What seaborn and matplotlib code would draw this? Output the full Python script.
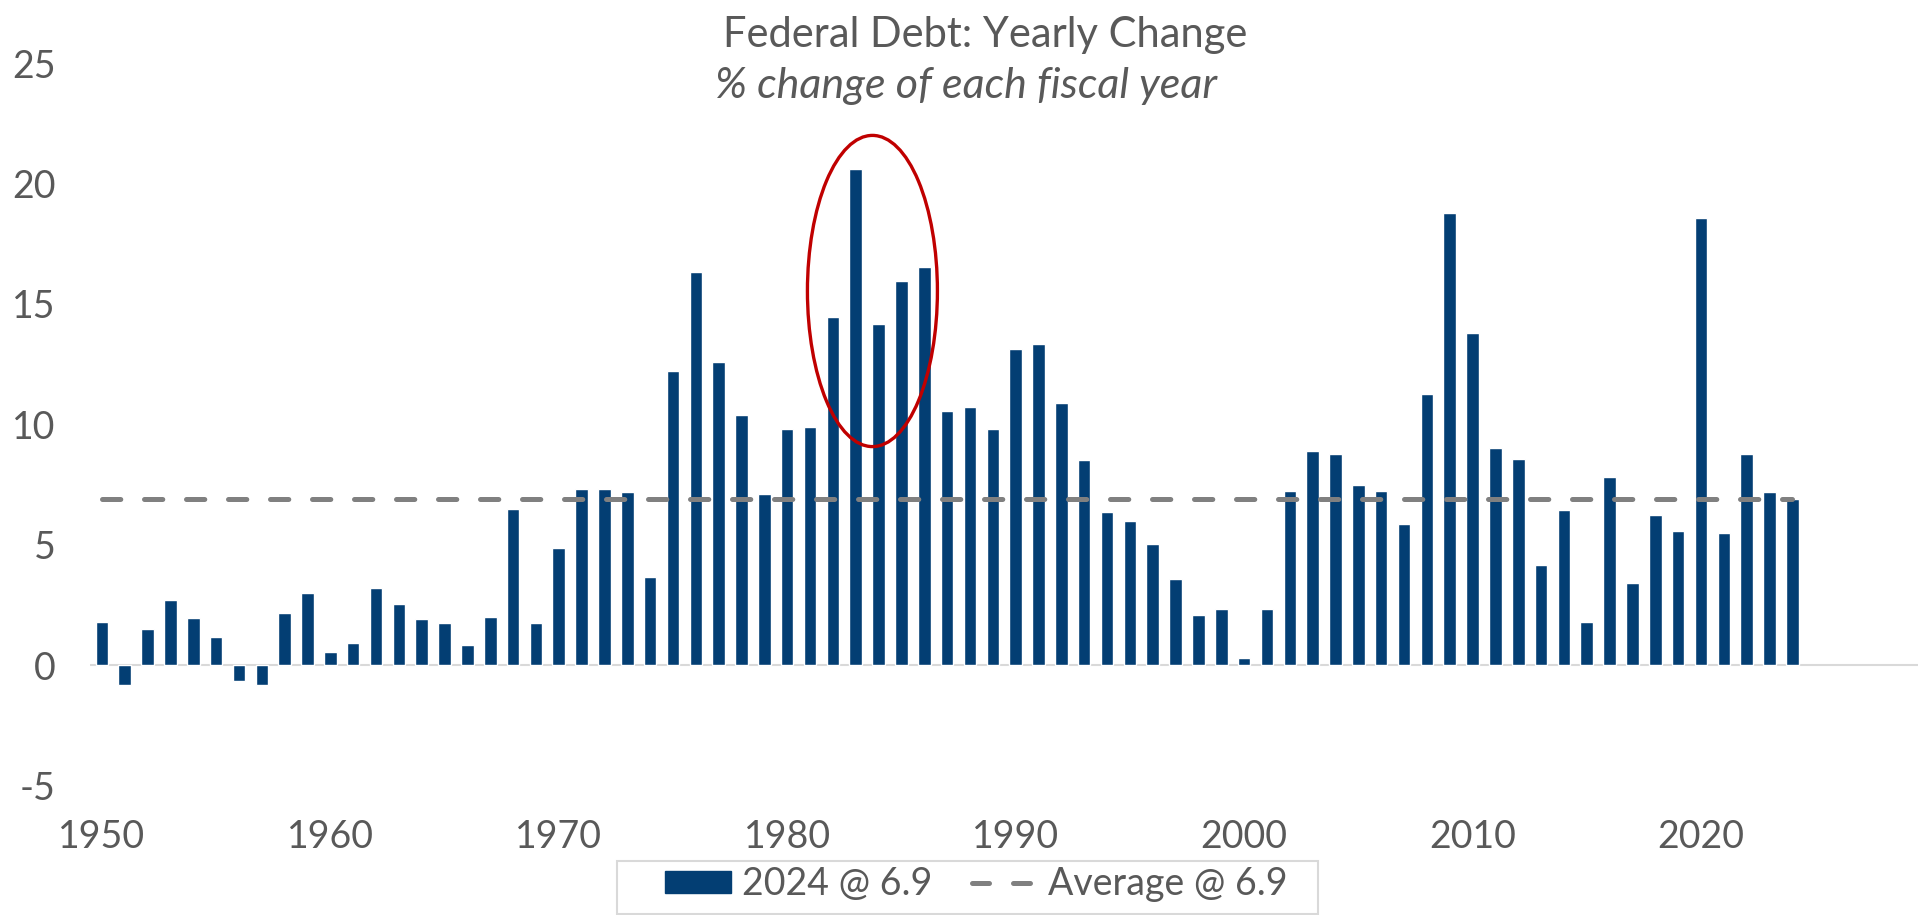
import numpy as np
import matplotlib
matplotlib.use("Agg")
import matplotlib.pyplot as plt
from matplotlib.patches import Ellipse, Patch, Rectangle
from matplotlib.lines import Line2D
import seaborn as sns

# yearly % change of federal debt
years = list(range(1950, 2025))
pct_change = [
    1.8, -0.85, 1.5, 2.7, 1.95, 1.15, -0.65, -0.85, 2.15, 3.0,   # 1950s
    0.55, 0.9, 3.2, 2.55, 1.9, 1.75, 0.85, 2.0, 6.5, 1.75,      # 1960s
    4.85, 7.3, 7.3, 7.2, 3.65, 12.2, 16.35, 12.6, 10.4, 7.1,    # 1970s
    9.8, 9.9, 14.45, 20.6, 14.15, 15.95, 16.55, 10.55, 10.7, 9.8,  # 1980s
    13.15, 13.35, 10.9, 8.5, 6.35, 5.97, 5.03, 3.57, 2.06, 2.32,  # 1990s
    0.28, 2.32, 7.22, 8.89, 8.76, 7.47, 7.21, 5.86, 11.25, 18.77,  # 2000s
    13.81, 9.03, 8.58, 4.15, 6.46, 1.8, 7.8, 3.4, 6.23, 5.57,     # 2010s
    18.56, 5.47, 8.76, 7.19, 6.9,                                  # 2020s
]
avg_value = 6.9
avg_line = [avg_value] * len(years)
tick_years = [1950, 1960, 1970, 1980, 1990, 2000, 2010, 2020]
y_ticks = [-5, 0, 5, 10, 15, 20, 25]
bar_label = "2024 @ 6.9"
avg_label = "Average @ 6.9"
title = "Federal Debt: Yearly Change"
subtitle = "% change of each fiscal year"

navy = "#033E73"
grey_txt = "#595959"
grey_line = "#808080"

sns.set_style("white")
plt.rcParams["font.family"] = ["Lato", "DejaVu Sans"]

fig = plt.figure(figsize=(19.29, 9.15), dpi=100)
ax = fig.add_axes([0.0469, 0.1417, 0.9474, 0.7891])

sns.barplot(x=years, y=pct_change, native_scale=True, width=0.55,
            color=navy, saturation=1, ax=ax, zorder=3)
sns.lineplot(x=years, y=avg_line, ax=ax, color=grey_line, lw=3.6,
             linestyle=(0, (3.66, 4.74)), dash_capstyle="round", zorder=4)

ax.axhline(0, color="#D9D9D9", lw=1.5, zorder=2)

# highlight circle round the early-80s peak
ax.add_patch(Ellipse((1983.73, 15.54), 5.69, 12.93, fill=False,
                     edgecolor="#C00000", lw=2.4, zorder=5))

ax.set_xlim(1949.5, 2029.5)
ax.set_ylim(-5, 25)
ax.set_xticks(tick_years)
ax.set_xticklabels([str(y) for y in tick_years])
ax.set_yticks(y_ticks)
ax.set_yticklabels([str(v) for v in y_ticks])
ax.tick_params(axis="x", length=0, pad=24, labelsize=27, labelcolor=grey_txt)
ax.tick_params(axis="y", length=0, pad=25, labelsize=27, labelcolor=grey_txt)
for lab in ax.get_yticklabels():
    lab.set_horizontalalignment("right")
ax.set_xlabel("")
ax.set_ylabel("")
sns.despine(ax=ax, left=True, bottom=True)
ax.grid(False)

fig.text(0.5106, 1 - 35 / 915, title, ha="center", va="center",
         fontsize=30, color=grey_txt)
fig.text(0.501, 1 - 86 / 915, subtitle, ha="center", va="center",
         fontsize=31, color=grey_txt, style="italic")

# legend: entries without frame, box drawn separately (wider padding on the sides)
handles = [Patch(facecolor=navy, edgecolor=navy),
           Line2D([0], [0], color=grey_line, lw=3.6, linestyle=(0, (3.4, 4.8)),
                  dash_capstyle="round")]
leg = fig.legend(handles, [bar_label, avg_label], loc="upper center",
                 bbox_to_anchor=(0.5062, 1 - 857 / 915), ncol=2, frameon=False,
                 fontsize=27, handlelength=1.75, handleheight=0.55,
                 columnspacing=1.05, borderpad=0.25, borderaxespad=0,
                 handletextpad=0.3)
for t in leg.get_texts():
    t.set_color(grey_txt)
fig.patches.append(Rectangle((617 / 1929, 1 - 914 / 915), 701 / 1929, 53 / 915,
                             transform=fig.transFigure, fill=False,
                             edgecolor="#D9D9D9", lw=1.5))

fig.savefig("out.png", dpi=100)
